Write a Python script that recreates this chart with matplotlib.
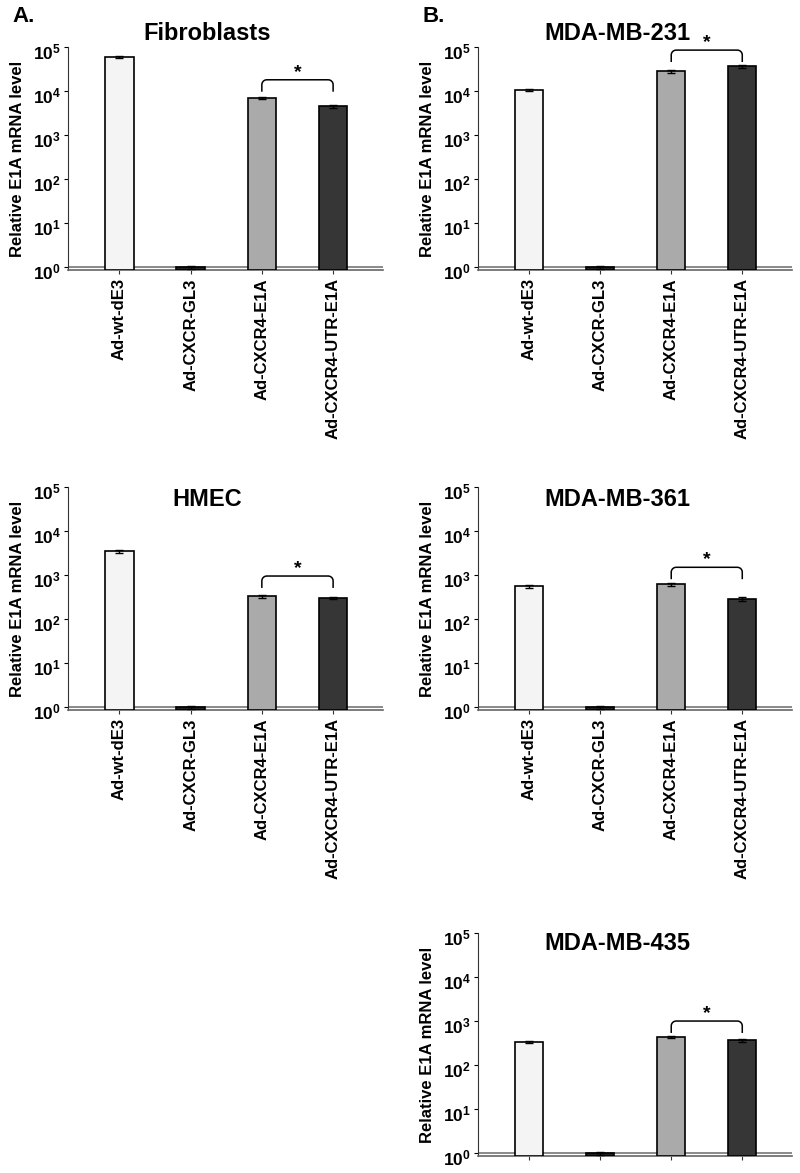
import numpy as np
import matplotlib
matplotlib.use("Agg")
import matplotlib.pyplot as plt
from matplotlib.transforms import blended_transform_factory, ScaledTranslation

plt.rcParams['font.family'] = ['Liberation Sans', 'DejaVu Sans']
plt.rcParams['font.weight'] = 'bold'
plt.rcParams['mathtext.fontset'] = 'custom'
plt.rcParams['mathtext.rm'] = 'Liberation Sans:bold'
plt.rcParams['mathtext.bf'] = 'Liberation Sans:bold'

# data
vectors = ['Ad-wt-dE3', 'Ad-CXCR-GL3', 'Ad-CXCR4-E1A', 'Ad-CXCR4-UTR-E1A']
fibro = [59000, 1.0, 6900, 4500]
fibro_err = [3000, 0.08, 450, 300]
mda231 = [10500, 1.0, 28000, 37000]
mda231_err = [700, 0.08, 2500, 3000]
hmec = [3500, 1.0, 330, 300]
hmec_err = [250, 0.08, 25, 18]
mda361 = [560, 1.0, 610, 285]
mda361_err = [40, 0.08, 40, 25]
mda435 = [330, 1.0, 435, 370]
mda435_err = [20, 0.08, 25, 30]
# top of the significance bracket over E1A / UTR-E1A
bracket_top = [18000, 85000, 950, 1500, 1000]

titles = ['Fibroblasts', 'MDA-MB-231', 'HMEC', 'MDA-MB-361', 'MDA-MB-435']
values = [fibro, mda231, hmec, mda361, mda435]
errors = [fibro_err, mda231_err, hmec_err, mda361_err, mda435_err]

bar_colors = ['#f4f4f4', '#222222', '#aaaaaa', '#363636']

W, H = 800, 1173
fig = plt.figure(figsize=(W / 100, H / 100), dpi=100)

# axes boxes in pixels: left, top, right, bottom
boxes = [(68, 47, 383, 270), (478, 47, 792, 270),
         (68, 487, 383, 710), (478, 487, 792, 710),
         (478, 933, 792, 1156)]
title_y = [33, 34, 500, 500, 943]
show_labels = [True, True, True, True, False]

ylo, yhi = 0.86, 1e5


def to_ax(v):
    return (np.log10(v) - np.log10(ylo)) / (np.log10(yhi) - np.log10(ylo))


shift_down = ScaledTranslation(0, -0.035, fig.dpi_scale_trans)

for i in range(5):
    l, t, r, b = boxes[i]
    ax = fig.add_axes([l / W, 1 - b / H, (r - l) / W, (b - t) / H])
    x = np.arange(len(vectors))
    ax.bar(x, np.array(values[i]) - ylo, bottom=ylo, width=0.4,
           color=bar_colors, edgecolor='black', linewidth=1.2, zorder=3)
    ax.errorbar(x, values[i], yerr=errors[i], fmt='none', ecolor='black',
                elinewidth=1, capsize=3, capthick=1, zorder=4)
    ax.axhline(1, color='#777777', lw=1.2, zorder=2)
    ax.set_yscale('log')
    ax.set_ylim(ylo, yhi)
    ax.set_xlim(-0.72, 3.70)
    ax.set_yticks([1, 10, 100, 1e3, 1e4, 1e5])
    ax.set_yticklabels([r'$\mathbf{10^{%d}}$' % k for k in range(6)], fontsize=12.5)
    ax.minorticks_off()
    ax.set_xticks(x)
    if show_labels[i]:
        ax.set_xticklabels(vectors, rotation=90, fontsize=12, fontweight='bold')
    else:
        ax.set_xticklabels([])
    ax.tick_params(axis='x', length=3, width=0.8, pad=3, colors='#333333')
    ax.tick_params(axis='y', length=3, width=0.8, pad=2)
    for lab in ax.get_xticklabels() + ax.get_yticklabels():
        lab.set_color('black')
    for lab in ax.get_yticklabels():
        lab.set_transform(lab.get_transform() + shift_down)
    ax.spines['top'].set_visible(False)
    ax.spines['right'].set_visible(False)
    ax.spines['left'].set_color('#333333')
    ax.spines['left'].set_linewidth(0.8)
    ax.spines['bottom'].set_color('#666666')
    ax.spines['bottom'].set_linewidth(1.2)
    ax.set_ylabel('Relative E1A mRNA level', fontsize=12, fontweight='bold')
    ax.yaxis.set_label_coords(-0.137, 0.5)

    # significance bracket
    tr = blended_transform_factory(ax.transData, ax.transAxes)
    yt = to_ax(bracket_top[i])
    drop = 0.05
    rx, ry = 0.07, 0.022
    x1, x2 = 2, 3
    a = np.linspace(0, np.pi / 2, 10)
    bx = np.concatenate([[x1], x1 + rx - rx * np.cos(a), x2 - rx + rx * np.sin(a), [x2]])
    by = np.concatenate([[yt - drop], yt - ry + ry * np.sin(a), yt - ry + ry * np.cos(a), [yt - drop]])
    ax.plot(bx, by, color='black', lw=1.1, transform=tr, clip_on=False, zorder=5)
    ax.text(2.5, yt - 0.005, '*', transform=tr, ha='center', va='bottom',
            fontsize=14, fontweight='bold')

    fig.text((l + 139) / W, 1 - title_y[i] / H, titles[i], ha='center', va='center',
             fontsize=17, fontweight='bold')

fig.text(12 / W, 1 - 17 / H, 'A.', ha='left', va='center', fontsize=16, fontweight='bold')
fig.text(422 / W, 1 - 16 / H, 'B.', ha='left', va='center', fontsize=16, fontweight='bold')

fig.savefig('out.png', dpi=100)
